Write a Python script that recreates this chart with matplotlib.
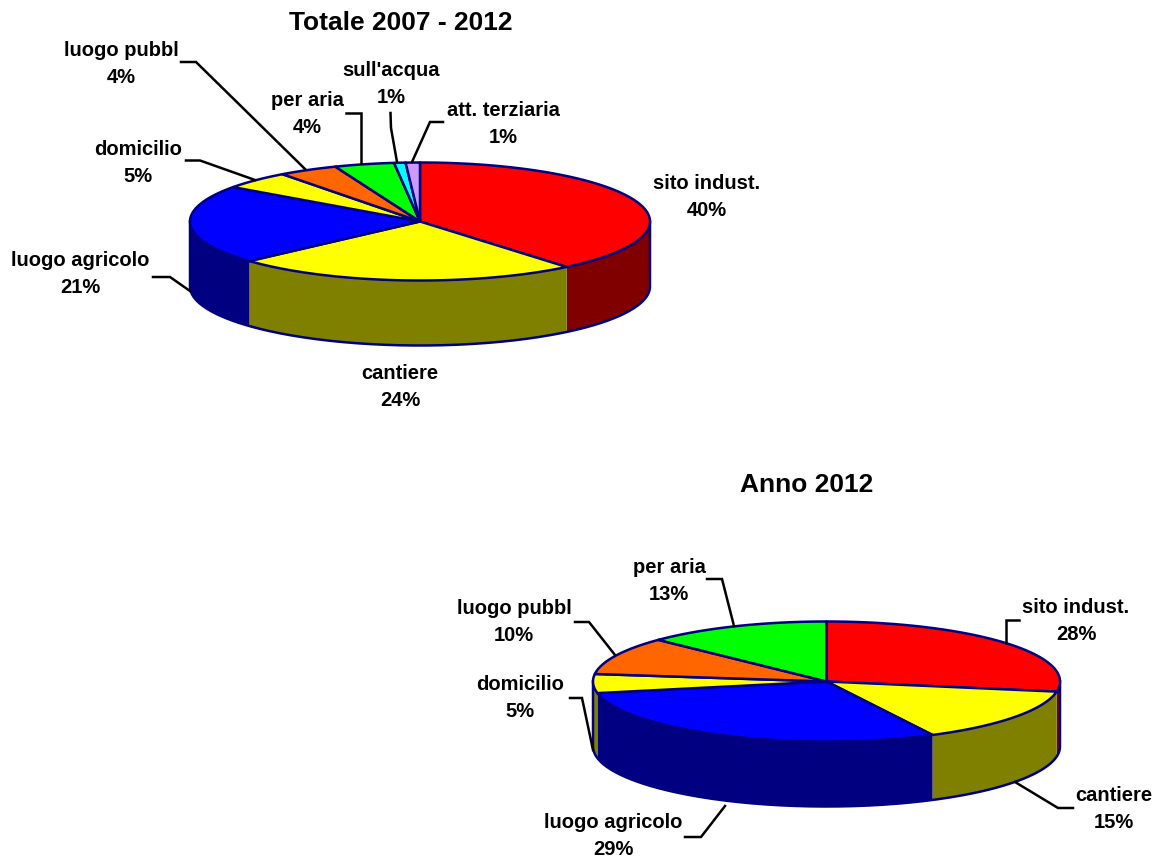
import numpy as np
import matplotlib
matplotlib.use("Agg")
import matplotlib.pyplot as plt

plt.rcParams['font.family'] = ['Liberation Sans', 'DejaVu Sans']

names_tot = ['sito indust.', 'cantiere', 'luogo agricolo', 'domicilio', 'luogo pubbl', 'per aria', "sull'acqua", 'att. terziaria']
shares_tot = [39.0, 24.3, 21.6, 4.9, 4.2, 4.2, 0.8, 1.0]
labels_tot = ['40%', '24%', '21%', '5%', '4%', '4%', '1%', '1%']

names_2012 = ['sito indust.', 'cantiere', 'luogo agricolo', 'domicilio', 'luogo pubbl', 'per aria']
shares_2012 = [27.7, 14.8, 29.4, 5.1, 10.2, 12.8]
labels_2012 = ['28%', '15%', '29%', '5%', '10%', '13%']

top_colors = ['#ff0000', '#ffff00', '#0000ff', '#ffff00', '#ff6600', '#00ff00', '#00ffff', '#cc99ff']
side_colors = ['#800000', '#808000', '#000080', '#808000', '#803300', '#008000', '#008080', '#664d80']
EDGE = '#000080'


def rim(cx, cy, rx, ry, t):
    # t in degrees, clockwise from 12 o'clock
    t = np.radians(t)
    return cx + rx*np.sin(t), cy - ry*np.cos(t)


def pie3d(ax, shares, cx, cy, rx, ry, depth):
    edges = np.concatenate([[0], np.cumsum(shares)]) / np.sum(shares) * 360
    # side walls first, only the front half can be seen
    for i in range(len(shares)):
        a, b = max(edges[i], 90), min(edges[i+1], 270)
        if b <= a:
            continue
        t = np.linspace(a, b, 80)
        x, y = rim(cx, cy, rx, ry, t)
        ax.fill(np.r_[x, x[::-1]], np.r_[y, y[::-1] + depth], fc=side_colors[i], ec='none', zorder=2)
    t = np.linspace(90, 270, 200)
    x, y = rim(cx, cy, rx, ry, t)
    ax.plot(np.r_[x[0], x, x[-1]], np.r_[y[0], y + depth, y[-1]], color=EDGE, lw=1.8, zorder=3)
    for i in range(len(shares)):
        t = np.linspace(edges[i], edges[i+1], 100)
        x, y = rim(cx, cy, rx, ry, t)
        ax.fill(np.r_[cx, x], np.r_[cy, y], fc=top_colors[i], ec=EDGE, lw=1.8, joinstyle='round', zorder=4)


def put_labels(ax, names, labels, spots):
    for name, lab, (x, y) in zip(names, labels, spots):
        ax.text(x, y, name + '\n' + lab, ha='center', va='center', fontsize=14.5,
                fontweight='bold', linespacing=1.47, zorder=6)


fig = plt.figure(figsize=(11.59, 8.61), dpi=100)
ax = fig.add_axes([0, 0, 1, 1])
ax.set_xlim(0, 1159)
ax.set_ylim(861, 0)
ax.axis('off')

pie3d(ax, shares_tot, 420, 221.5, 230, 59, 65)
pie3d(ax, shares_2012, 826.5, 681.5, 233.5, 60, 65)

put_labels(ax, names_tot, labels_tot,
           [(707, 197), (400, 387), (80, 274), (138, 163), (121, 64), (307, 114), (391, 84), (503, 124)])
put_labels(ax, names_2012, labels_2012,
           [(1076, 621), (1114, 809), (613, 836), (520, 698), (514, 622), (669, 581)])

ax.text(400.5, 23, 'Totale 2007 - 2012', ha='center', va='center', fontsize=19, fontweight='bold')
ax.text(806.5, 485, 'Anno 2012', ha='center', va='center', fontsize=19, fontweight='bold')

leaders = [
    [(181, 62), (196, 62), (305, 169)],
    [(346, 113), (361, 113), (361, 163)],
    [(390.5, 113), (391, 128), (397, 162)],
    [(443, 122), (430, 122), (412, 162)],
    [(186, 160.5), (200, 160.5), (255, 180)],
    [(153, 277), (170, 277), (190, 291)],
    [(1019, 620), (1005.5, 620), (1005.5, 643)],
    [(1073, 808), (1058, 808), (1015, 782)],
    [(707, 579), (722, 579), (734, 626)],
    [(575, 622), (589, 622), (615, 655)],
    [(570, 698), (582, 698), (593, 750)],
    [(685, 837), (701, 837), (725, 806)],
]
for path in leaders:
    xs, ys = zip(*path)
    ax.plot(xs, ys, color='black', lw=1.8, zorder=5, solid_joinstyle='miter')

fig.savefig('out.png', dpi=100)
